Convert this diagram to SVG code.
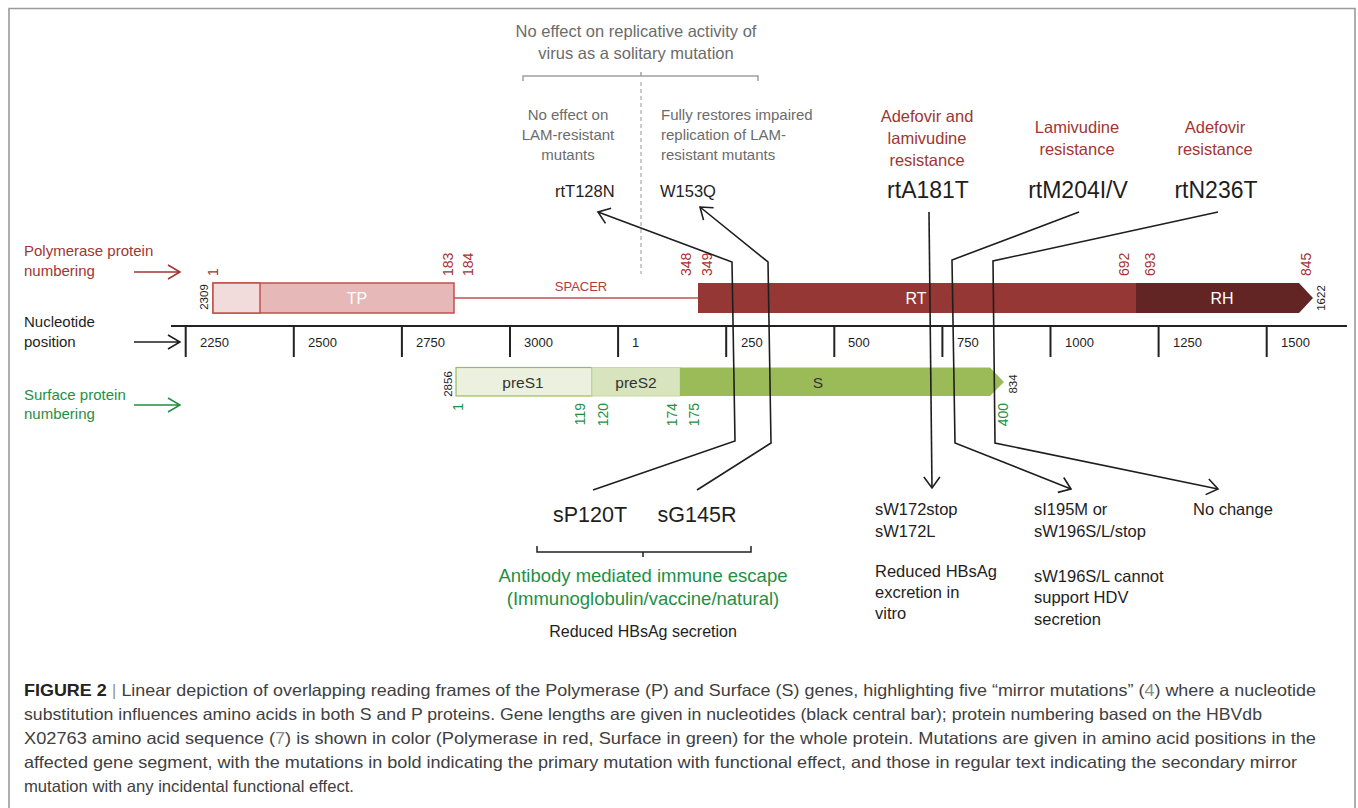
<svg xmlns="http://www.w3.org/2000/svg" width="1358" height="808" viewBox="0 0 1358 808">
<defs>
<style>
text { font-family: "Liberation Sans", Arial, sans-serif; }
.red { fill: #a23533; }
.green { fill: #1f8f44; }
.grey { fill: #6b6b6b; }
.blk { fill: #1e1e1e; }
.white { fill: #ffffff; }
.conn { stroke: #1e1e1e; stroke-width: 1.6; fill: none; marker-end: url(#arr); }
.rot { font-size: 14px; }
.rotsm { font-size: 11.5px; fill: #1e1e1e; }
.tick { font-size: 13px; fill: #1e1e1e; }
.cap { font-size: 16.5px; fill: #404040; }
</style>
<marker id="arr" viewBox="-14 -10 16 20" markerWidth="16" markerHeight="20" refX="0" refY="0" orient="auto" markerUnits="userSpaceOnUse" overflow="visible">
<path d="M-11,-8 L0,0 L-11,8" fill="none" stroke="#1e1e1e" stroke-width="1.6"/>
</marker>
</defs>
<rect width="1358" height="808" fill="#ffffff"/>
<path d="M9,808 V8.5 H1355 V808" fill="none" stroke="#9a9a9a" stroke-width="1.6"/>

<g id="legend-polymerase">
<text x="24" y="256" font-size="15" class="red">Polymerase protein</text>
<text x="24" y="276" font-size="15" class="red">numbering</text>
<path d="M134,272 H179 M168,265 L180,272 L168,279" fill="none" stroke="#a23533" stroke-width="1.5"/>
</g>
<g id="legend-nucleotide">
<text x="24" y="327" font-size="15" class="blk">Nucleotide</text>
<text x="24" y="347" font-size="15" class="blk">position</text>
<path d="M134,342 H179 M168,335 L180,342 L168,349" fill="none" stroke="#1e1e1e" stroke-width="1.5"/>
</g>
<g id="legend-surface">
<text x="24" y="400" font-size="15" class="green">Surface protein</text>
<text x="24" y="419" font-size="15" class="green">numbering</text>
<path d="M134,405 H179 M168,398 L180,405 L168,412" fill="none" stroke="#1f8f44" stroke-width="1.5"/>
</g>

<g id="top-annotation">
<text x="636" y="37" font-size="16.5" class="grey" text-anchor="middle">No effect on replicative activity of</text>
<text x="636" y="59" font-size="16.5" class="grey" text-anchor="middle">virus as a solitary mutation</text>
<path d="M523,81 V76 H758 V81 M641,76 V72" fill="none" stroke="#a0a0a0" stroke-width="1.5"/>
<path d="M641,82 V274" fill="none" stroke="#b0b0b0" stroke-width="1.3" stroke-dasharray="4 3"/>
<text x="568" y="120" font-size="15" class="grey" text-anchor="middle">No effect on</text>
<text x="568" y="140" font-size="15" class="grey" text-anchor="middle">LAM-resistant</text>
<text x="568" y="160" font-size="15" class="grey" text-anchor="middle">mutants</text>
<text x="661" y="120" font-size="15" class="grey">Fully restores impaired</text>
<text x="661" y="140" font-size="15" class="grey">replication of LAM-</text>
<text x="661" y="160" font-size="15" class="grey">resistant mutants</text>
</g>

<g id="mut-rtT128N"><text x="555" y="197" font-size="16.5" class="blk">rtT128N</text></g>
<g id="mut-W153Q"><text x="660" y="197" font-size="16.5" class="blk">W153Q</text></g>

<g id="mut-rtA181T">
<text x="927" y="122" font-size="16.5" class="red" text-anchor="middle">Adefovir and</text>
<text x="927" y="144" font-size="16.5" class="red" text-anchor="middle">lamivudine</text>
<text x="927" y="166" font-size="16.5" class="red" text-anchor="middle">resistance</text>
<text x="928" y="198" font-size="23" class="blk" text-anchor="middle">rtA181T</text>
</g>
<g id="mut-rtM204IV">
<text x="1077" y="133" font-size="16.5" class="red" text-anchor="middle">Lamivudine</text>
<text x="1077" y="155" font-size="16.5" class="red" text-anchor="middle">resistance</text>
<text x="1078" y="198" font-size="23" class="blk" text-anchor="middle">rtM204I/V</text>
</g>
<g id="mut-rtN236T">
<text x="1215" y="133" font-size="16.5" class="red" text-anchor="middle">Adefovir</text>
<text x="1215" y="155" font-size="16.5" class="red" text-anchor="middle">resistance</text>
<text x="1216" y="198" font-size="23" class="blk" text-anchor="middle">rtN236T</text>
</g>

<g id="polymerase-bar">
<rect x="213" y="283" width="241" height="30" fill="#e6b8b7" stroke="#c0504d" stroke-width="1.5"/>
<rect x="213" y="283" width="47" height="30" fill="#f2dcdb" stroke="#c0504d" stroke-width="1.5"/>
<text x="357" y="304" font-size="16" class="white" text-anchor="middle">TP</text>
<path d="M454,298 H698" stroke="#c0504d" stroke-width="1.5"/>
<text x="581" y="291" font-size="13" fill="#b03c3a" text-anchor="middle">SPACER</text>
<rect x="698" y="283" width="438" height="30" fill="#953735"/>
<path d="M1136,283 H1299 L1313,298 L1299,313 H1136 Z" fill="#632523"/>
<text x="916" y="304" font-size="16" class="white" text-anchor="middle">RT</text>
<text x="1222" y="304" font-size="16" class="white" text-anchor="middle">RH</text>
<text class="rotsm" text-anchor="middle" transform="translate(208,297) rotate(-90)">2309</text>
<text class="rotsm" text-anchor="middle" transform="translate(1325,298) rotate(-90)">1622</text>
<g class="red rot">
<text transform="translate(218,276) rotate(-90)">1</text>
<text transform="translate(453,276) rotate(-90)">183</text>
<text transform="translate(473,276) rotate(-90)">184</text>
<text transform="translate(691,276) rotate(-90)">348</text>
<text transform="translate(712,276) rotate(-90)">349</text>
<text transform="translate(1129,276) rotate(-90)">692</text>
<text transform="translate(1155,276) rotate(-90)">693</text>
<text transform="translate(1311,276) rotate(-90)">845</text>
</g>
</g>

<g id="nucleotide-axis">
<path d="M171,326 H1347 M185.7,326 V357 M293.8,326 V357 M401.9,326 V357 M510,326 V357 M618.1,326 V357 M726.2,326 V357 M834.3,326 V357 M942.4,326 V357 M1050.5,326 V357 M1158.6,326 V357 M1266.7,326 V357" fill="none" stroke="#222" stroke-width="2"/>
<text class="tick" x="200" y="347">2250</text>
<text class="tick" x="308" y="347">2500</text>
<text class="tick" x="416" y="347">2750</text>
<text class="tick" x="524" y="347">3000</text>
<text class="tick" x="632" y="347">1</text>
<text class="tick" x="741" y="347">250</text>
<text class="tick" x="848" y="347">500</text>
<text class="tick" x="957" y="347">750</text>
<text class="tick" x="1065" y="347">1000</text>
<text class="tick" x="1173" y="347">1250</text>
<text class="tick" x="1281" y="347">1500</text>
</g>

<g id="surface-bar">
<rect x="456" y="367.5" width="136" height="28.5" fill="#ebf1de" stroke="#9bbb59" stroke-width="1.2"/>
<rect x="592" y="367.5" width="88" height="28.5" fill="#d7e4bd" stroke="#c5d9a0" stroke-width="1"/>
<path d="M680,367.5 H990 L1004,382 L990,396 H680 Z" fill="#9bbb59"/>
<text x="523" y="388" font-size="15.5" fill="#333" text-anchor="middle">preS1</text>
<text x="636" y="388" font-size="15.5" fill="#333" text-anchor="middle">preS2</text>
<text x="818" y="388" font-size="15.5" fill="#333" text-anchor="middle">S</text>
<text class="rotsm" text-anchor="middle" transform="translate(452,384) rotate(-90)">2856</text>
<text class="rotsm" text-anchor="middle" transform="translate(1017,384) rotate(-90)">834</text>
<g class="green rot" text-anchor="end">
<text transform="translate(463,403) rotate(-90)">1</text>
<text transform="translate(585,403) rotate(-90)">119</text>
<text transform="translate(608,403) rotate(-90)">120</text>
<text transform="translate(677,403) rotate(-90)">174</text>
<text transform="translate(699,403) rotate(-90)">175</text>
<text transform="translate(1008,403) rotate(-90)">400</text>
</g>
</g>

<g id="connectors">
<path class="conn" d="M593,490 L735,441 L732,262 L598,212"/>
<path class="conn" d="M697,490 L771,443 L768,262 L700,207"/>
<path class="conn" d="M929,212 L932,488"/>
<path class="conn" d="M1079,212 L952,260 L955,443 L1071,489"/>
<path class="conn" d="M1218,212 L993,261 L995,443 L1218,489"/>
</g>

<g id="immune-escape">
<text x="590" y="522" font-size="21.5" class="blk" text-anchor="middle">sP120T</text>
<text x="697" y="522" font-size="21.5" class="blk" text-anchor="middle">sG145R</text>
<path d="M537,546 V552 H751 V546 M643,552 V557" fill="none" stroke="#222" stroke-width="1.5"/>
<text x="643" y="582" font-size="18.5" class="green" text-anchor="middle">Antibody mediated immune escape</text>
<text x="643" y="605" font-size="18.5" class="green" text-anchor="middle">(Immunoglobulin/vaccine/natural)</text>
<text x="643" y="637" font-size="16" class="blk" text-anchor="middle">Reduced HBsAg secretion</text>
</g>

<g id="effect-sW172" font-size="16.5" class="blk">
<text x="875" y="515">sW172stop</text>
<text x="875" y="537">sW172L</text>
<text x="875" y="577">Reduced HBsAg</text>
<text x="875" y="598">excretion in</text>
<text x="875" y="619">vitro</text>
</g>
<g id="effect-sW196" font-size="16.5" class="blk">
<text x="1034" y="515">sI195M or</text>
<text x="1034" y="537">sW196S/L/stop</text>
<text x="1034" y="582">sW196S/L cannot</text>
<text x="1034" y="603">support HDV</text>
<text x="1034" y="625">secretion</text>
</g>
<g id="effect-nochange" font-size="16.5" class="blk">
<text x="1193" y="515">No change</text>
</g>

<g id="caption">
<text class="cap" x="24" y="696" textLength="1292" lengthAdjust="spacingAndGlyphs"><tspan font-weight="bold" fill="#222">FIGURE 2</tspan> <tspan fill="#999">|</tspan> Linear depiction of overlapping reading frames of the Polymerase (P) and Surface (S) genes, highlighting five “mirror mutations” (<tspan fill="#8a8a8a">4</tspan>) where a nucleotide</text>
<text class="cap" x="24" y="720" textLength="1238" lengthAdjust="spacingAndGlyphs">substitution influences amino acids in both S and P proteins. Gene lengths are given in nucleotides (black central bar); protein numbering based on the HBVdb</text>
<text class="cap" x="24" y="744" textLength="1292" lengthAdjust="spacingAndGlyphs">X02763 amino acid sequence (<tspan fill="#8a8a8a">7</tspan>) is shown in color (Polymerase in red, Surface in green) for the whole protein. Mutations are given in amino acid positions in the</text>
<text class="cap" x="24" y="768" textLength="1273" lengthAdjust="spacingAndGlyphs">affected gene segment, with the mutations in bold indicating the primary mutation with functional effect, and those in regular text indicating the secondary mirror</text>
<text class="cap" x="24" y="792" textLength="330" lengthAdjust="spacingAndGlyphs">mutation with any incidental functional effect.</text>
</g>
</svg>
